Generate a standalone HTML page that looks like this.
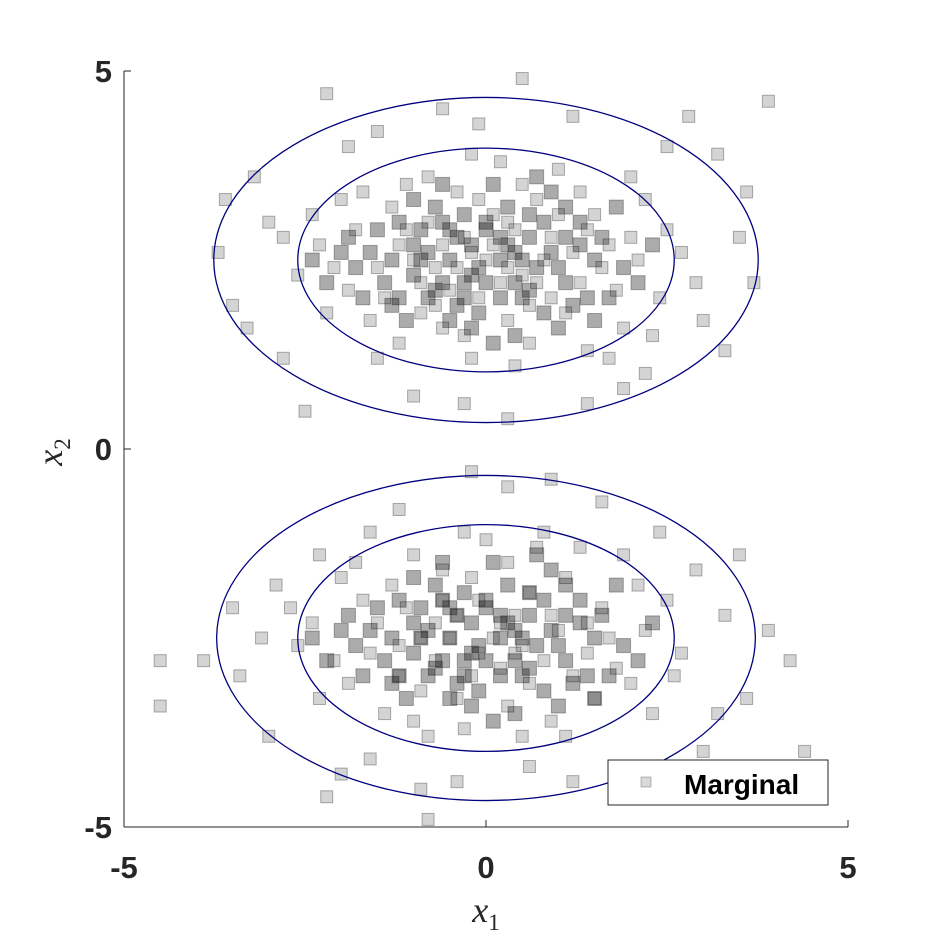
<!DOCTYPE html>
<html><head><meta charset="utf-8"><style>
html,body{margin:0;padding:0;background:#fff;}
svg{display:block;}
</style></head><body>
<svg id="chart" width="938" height="938" viewBox="0 0 938 938">
<rect x="0" y="0" width="938" height="938" fill="#fff"/>
<g id="points"></g>
<g id="ellipses"></g>
<g id="axes"></g>
<text x="486" y="922" font-family="Liberation Serif, serif" font-style="italic" font-size="36" text-anchor="middle" fill="#262626">x<tspan font-size="23" dy="8" font-style="normal">1</tspan></text>
<text transform="translate(62,452) rotate(-90)" font-family="Liberation Serif, serif" font-style="italic" font-size="36" text-anchor="middle" fill="#262626">x<tspan font-size="23" dy="8" font-style="normal">2</tspan></text>
<g>
<rect x="608" y="760" width="220" height="45" fill="#fff" stroke="#262626" stroke-width="1"/>
<rect x="641" y="777" width="10" height="10" fill="rgba(0,0,0,0.15)" stroke="rgba(0,0,0,0.25)"/>
<text x="684" y="794" font-family="Liberation Sans, sans-serif" font-weight="bold" font-size="28" fill="#000">Marginal</text>
</g>
</svg>
<script>
const xTicks=[-5,0,5];
const yTicks=[-5,0,5];
const xTickLabels=["-5","0","5"];
const yTickLabels=["-5","0","5"];
const ellipseCenters=[[0,2.5],[0,2.5],[0,-2.5],[0,-2.5]];
const ellipseRx=[3.76,2.6,3.72,2.6];
const ellipseRy=[2.15,1.48,2.15,1.5];
const clusterA=[[-0.2,2.6],[0.5,2.3],[-1.1,2.9],[1.3,2.2],[0.1,3.1],[-0.7,1.9],[0.9,2.8],[-1.5,2.4],[1.7,2.7],[-0.4,3.4],[0.3,1.7],[-1.9,2.1],[2.1,2.5],[0.7,3.3],[-0.9,2.2],[1.1,1.8],[-0.1,2.0],[0.4,2.9],[-1.3,3.2],[1.5,3.1],[-2.3,2.7],[2.4,2.0],[0.0,2.5],[-0.6,2.7],[0.8,2.5],[-1.6,1.7],[1.9,1.6],[-0.3,1.5],[0.6,1.4],[-2.0,3.3],[2.2,3.3],[-0.8,3.6],[1.0,3.7],[-1.2,1.4],[1.4,1.3],[0.2,3.8],[-2.6,2.3],[2.7,2.6],[-0.5,2.1],[0.3,2.4],[-1.0,2.5],[1.2,2.6],[-1.8,2.9],[1.8,2.1],[-0.2,1.2],[0.5,3.5],[-1.4,2.0],[1.6,2.4],[-2.2,1.8],[2.5,2.9],[-0.3,2.8],[0.2,2.2],[-0.8,3.0],[0.9,2.0],[-1.2,2.7],[1.4,2.9],[-0.1,3.3],[0.6,1.9],[-0.6,1.6],[1.0,3.1],[-1.7,3.4],[2.0,3.6],[-2.4,3.1],[2.3,1.5],[-0.4,2.4],[0.1,2.7],[-0.9,1.8],[0.7,2.2],[-1.1,3.5],[1.3,3.4],[-2.8,2.8],[2.9,2.2],[-0.2,3.9],[0.4,1.1],[-1.5,1.2],[1.7,1.2],[-2.1,2.4],[2.0,2.8],[-0.7,2.4],[0.3,3.0],[-3.5,1.9],[3.6,3.4],[-3.2,3.6],[3.9,4.6],[-2.2,4.7],[0.5,4.9],[-0.1,4.3],[-2.5,0.5],[1.4,0.6],[-3.0,3.0],[3.3,1.3],[-3.7,2.6],[3.7,2.2],[2.8,4.4],[-1.5,4.2],[2.2,1.0],[-1.0,0.7],[0.3,0.4],[-2.8,1.2],[3.0,1.7],[-3.3,1.6],[3.2,3.9],[-1.9,4.0],[1.2,4.4],[-0.6,4.5],[2.5,4.0],[-3.6,3.3],[1.9,0.8],[-0.3,0.6],[3.5,2.8]];
const coreA=[[-0.5,2.5],[0.0,2.9],[0.4,2.6],[-0.8,2.6],[0.2,2.0],[-0.2,2.3],[0.6,2.8],[-1.0,2.3],[1.0,2.4],[-0.3,3.1],[0.8,3.0],[-1.3,2.5],[1.1,2.2],[-0.6,2.2],[0.3,2.7],[-0.1,1.8],[0.5,2.0],[-0.9,2.9],[1.3,2.7],[-1.6,2.6],[1.5,2.5],[-0.4,1.9],[0.1,3.5],[-0.7,3.2],[0.9,3.4],[-1.2,2.0],[1.2,1.9],[-0.2,2.7],[0.7,2.4],[-1.5,2.9],[1.6,2.8],[-0.5,1.7],[0.4,1.5],[-1.0,3.3],[1.1,3.2],[0.0,2.2],[-1.8,2.4],[1.9,2.4],[-0.3,2.0],[0.2,2.5],[-0.6,3.0],[0.6,3.1],[-1.1,1.7],[1.0,1.6],[-0.8,2.0],[0.8,1.8],[-1.4,2.2],[1.4,2.0],[-2.0,2.6],[2.1,2.2],[-0.1,2.4],[0.3,3.2],[-0.4,2.8],[0.5,2.5],[-1.2,3.0],[1.3,3.0],[-1.7,2.0],[1.7,2.0],[-0.9,2.5],[0.9,2.6],[-0.2,1.6],[0.1,1.4],[-0.6,3.5],[0.7,3.6],[-1.9,2.8],[1.8,3.2],[-2.2,2.2],[2.3,2.7],[-0.3,2.2],[0.4,2.2],[-0.7,2.1],[0.6,2.1],[-1.0,2.7],[1.1,2.8],[0.0,3.0],[-0.5,2.9],[0.2,2.8],[-1.3,1.9],[1.5,1.7],[-2.4,2.5]];
const clusterB=[[0.1,-2.5],[-0.4,-2.2],[0.8,-2.8],[-1.2,-2.6],[1.4,-2.3],[-0.2,-3.0],[0.6,-1.9],[-0.9,-3.2],[1.8,-2.9],[-1.7,-2.0],[0.3,-3.4],[-0.6,-1.6],[1.1,-1.7],[-2.1,-2.8],[2.2,-2.4],[-0.1,-2.0],[0.5,-2.6],[-1.4,-3.5],[1.5,-3.3],[-2.4,-2.3],[2.5,-2.0],[-0.3,-3.7],[0.9,-3.6],[-1.0,-1.4],[1.3,-1.3],[0.0,-1.2],[-1.9,-3.1],[2.0,-3.1],[-0.7,-2.8],[0.4,-2.2],[-1.1,-2.1],[1.0,-2.4],[-0.5,-2.5],[0.2,-2.9],[-1.6,-2.7],[1.7,-2.5],[-2.6,-2.6],[2.7,-2.7],[-0.8,-3.8],[0.7,-1.3],[-1.3,-1.8],[1.2,-3.0],[-0.2,-1.7],[0.3,-1.5],[-2.0,-1.7],[2.1,-1.8],[-0.4,-3.3],[0.6,-3.1],[-1.5,-2.3],[1.6,-2.1],[-0.9,-2.5],[0.9,-2.2],[-0.1,-2.7],[0.2,-2.3],[-1.2,-3.0],[1.4,-2.7],[-2.3,-3.3],[2.3,-3.5],[-0.6,-2.0],[0.5,-3.8],[-1.8,-1.5],[1.9,-1.4],[-2.7,-2.1],[2.6,-3.0],[-0.3,-1.1],[0.8,-1.1],[-1.0,-3.6],[1.1,-3.8],[-0.7,-2.3],[0.4,-2.7],[-4.5,-2.8],[-4.5,-3.4],[-3.9,-2.8],[4.2,-2.8],[4.4,-4.0],[3.5,-1.4],[3.9,-2.4],[-3.5,-2.1],[-3.0,-3.8],[3.2,-3.5],[-0.2,-0.3],[0.3,-0.5],[-1.2,-0.8],[1.6,-0.7],[-2.3,-1.4],[2.4,-1.1],[-2.0,-4.3],[-0.9,-4.5],[0.6,-4.2],[-2.2,-4.6],[-0.8,-4.9],[1.9,-4.4],[3.0,-4.0],[-3.4,-3.0],[3.6,-3.3],[-2.9,-1.8],[2.9,-1.6],[-1.6,-4.1],[1.2,-4.4],[-3.1,-2.5],[3.3,-2.2],[-0.4,-4.4],[0.9,-0.4],[-1.6,-1.1]];
const coreB=[[-0.5,-2.5],[0.0,-2.1],[0.4,-2.4],[-0.8,-2.4],[0.2,-3.0],[-0.2,-2.7],[0.6,-2.2],[-1.0,-2.7],[1.0,-2.6],[-0.3,-1.9],[0.8,-2.0],[-1.3,-2.5],[1.1,-2.8],[-0.6,-2.8],[0.3,-2.3],[-0.1,-3.2],[0.5,-3.0],[-0.9,-2.1],[1.3,-2.3],[-1.6,-2.4],[1.5,-2.5],[-0.4,-3.1],[0.1,-1.5],[-0.7,-1.8],[0.9,-1.6],[-1.2,-3.0],[1.2,-3.1],[-0.2,-2.3],[0.7,-2.6],[-1.5,-2.1],[1.6,-2.2],[-0.5,-3.3],[0.4,-3.5],[-1.0,-1.7],[1.1,-1.8],[0.0,-2.8],[-1.8,-2.6],[1.9,-2.6],[-0.3,-3.0],[0.2,-2.5],[-0.6,-2.0],[0.6,-1.9],[-1.1,-3.3],[1.0,-3.4],[-0.8,-3.0],[0.8,-3.2],[-1.4,-2.8],[1.4,-3.0],[-2.0,-2.4],[2.1,-2.8],[-0.1,-2.6],[0.3,-1.8],[-0.4,-2.2],[0.5,-2.5],[-1.2,-2.0],[1.3,-2.0],[-1.7,-3.0],[1.7,-3.0],[-0.9,-2.5],[0.9,-2.4],[-0.2,-3.4],[0.1,-3.6],[-0.6,-1.5],[0.7,-1.4],[-1.9,-2.2],[1.8,-1.8],[-2.2,-2.8],[2.3,-2.3],[-0.3,-2.8],[0.4,-2.8],[-0.7,-2.9],[0.6,-2.9],[-1.0,-2.3],[1.1,-2.2],[0.0,-2.0],[-0.5,-2.1],[0.2,-2.2],[-1.3,-3.1],[1.5,-3.3],[-2.4,-2.5]];
const NS='http://www.w3.org/2000/svg';
const X0=124,X1=848,Y0=827,Y1=71;
function sx(v){return X0+(v+5)/10*(X1-X0);}
function sy(v){return Y0-(v+5)/10*(Y0-Y1);}
const pts=document.getElementById('points');
function drawPts(arr,alpha,size){
  arr.forEach(p=>{
    const r=document.createElementNS(NS,'rect');
    r.setAttribute('x',sx(p[0])-size/2);r.setAttribute('y',sy(p[1])-size/2);
    r.setAttribute('width',size);r.setAttribute('height',size);
    r.setAttribute('fill','rgba(0,0,0,'+alpha+')');r.setAttribute('stroke','rgba(0,0,0,0.3)');
    
    
    pts.appendChild(r);
  });
}
drawPts(clusterA,0.17,12);drawPts(clusterB,0.17,12);
drawPts(coreA,0.33,14);drawPts(coreB,0.33,14);
const eg=document.getElementById('ellipses');
ellipseCenters.forEach((c,i)=>{
  const e=document.createElementNS(NS,'ellipse');
  e.setAttribute('cx',sx(c[0]));e.setAttribute('cy',sy(c[1]));
  e.setAttribute('rx',ellipseRx[i]*(X1-X0)/10);e.setAttribute('ry',ellipseRy[i]*(Y0-Y1)/10);
  e.setAttribute('fill','none');e.setAttribute('stroke','#00007f');e.setAttribute('stroke-width','1.3');
  
  
  eg.appendChild(e);
});
const ax=document.getElementById('axes');
function line(x1,y1,x2,y2,name){
  const l=document.createElementNS(NS,'line');
  l.setAttribute('x1',x1);l.setAttribute('y1',y1);l.setAttribute('x2',x2);l.setAttribute('y2',y2);
  l.setAttribute('stroke','#262626');l.setAttribute('stroke-width','1');
  
  
  ax.appendChild(l);
}
line(X0,Y0,X1,Y0,'x-axis-line');
line(X0,Y0,X0,Y1,'y-axis-line');
function txt(x,y,s,anchor,name){
  const t=document.createElementNS(NS,'text');
  t.setAttribute('x',x);t.setAttribute('y',y);t.setAttribute('text-anchor',anchor);
  t.setAttribute('font-family','Liberation Sans, sans-serif');t.setAttribute('font-weight','bold');
  t.setAttribute('font-size','31');t.setAttribute('fill','#262626');
  t.textContent=s;
  
  
  ax.appendChild(t);
}
xTicks.forEach((v,i)=>{line(sx(v),Y0,sx(v),Y0-7,'x-tick');txt(sx(v),878,xTickLabels[i],'middle','x-tick-label');});
yTicks.forEach((v,i)=>{line(X0,sy(v),X0+7,sy(v),'y-tick');txt(112,sy(v)+11,yTickLabels[i],'end','y-tick-label');});
</script>
</body></html>
